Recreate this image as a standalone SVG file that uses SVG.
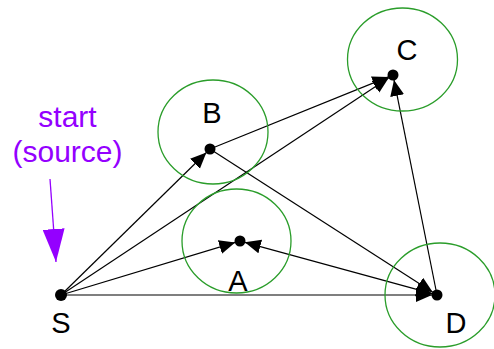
<svg xmlns="http://www.w3.org/2000/svg" width="494" height="349" viewBox="0 0 494 349">
<style>
.ring{fill:none;stroke:#2a9d2a;stroke-width:1.3}
.dot{fill:#000}
.lbl{font-family:"Liberation Sans",Arial,sans-serif;font-size:29px;fill:#000;text-anchor:middle}
.note{font-family:"Liberation Sans",Arial,sans-serif;font-size:30px;fill:#9400ff;text-anchor:middle}
.edge{stroke:#000;stroke-width:1.2;fill:none;marker-end:url(#ah)}
</style>
<defs>
<marker id="ah" markerUnits="userSpaceOnUse" markerWidth="17" markerHeight="15" refX="16" refY="7" orient="auto">
<path d="M0,0 L16,7 L0,14 Z" fill="#000"/>
</marker>
<marker id="ahs" markerUnits="userSpaceOnUse" markerWidth="17" markerHeight="15" refX="16" refY="7" orient="auto-start-reverse">
<path d="M0,0 L16,7 L0,14 Z" fill="#000"/>
</marker>
<marker id="pa" markerUnits="userSpaceOnUse" markerWidth="34" markerHeight="22" refX="33" refY="11" orient="auto">
<path d="M0,0 L33,11 L0,22 Z" fill="#9400ff"/>
</marker>
</defs>
<g id="connectors">
<line class="edge" x1="61" y1="295" x2="206.4" y2="152.5"/>
<line class="edge" x1="61" y1="295" x2="388.8" y2="77.8"/>
<line class="edge" x1="61" y1="295" x2="235.2" y2="242.4"/>
<line class="edge" x1="61" y1="295" x2="432" y2="295"/>
<line class="edge" x1="210" y1="149" x2="388.4" y2="76.9"/>
<line class="edge" x1="210" y1="149" x2="432.8" y2="292.3"/>
<line x1="244.8" y1="242.3" x2="432.2" y2="293.7" stroke="#000" stroke-width="1.2" marker-start="url(#ahs)" marker-end="url(#ah)"/>
<line class="edge" x1="437" y1="295" x2="394" y2="79.9"/>
</g>
<g id="node-B">
<ellipse class="ring" cx="213" cy="132" rx="55" ry="52"/>
<circle class="dot" cx="210" cy="149" r="5.5"/>
<text class="lbl" x="212" y="123">B</text>
</g>
<g id="node-A">
<ellipse class="ring" cx="236.5" cy="241" rx="54.5" ry="52"/>
<circle class="dot" cx="240" cy="241" r="5.5"/>
<text class="lbl" x="238" y="291">A</text>
</g>
<g id="node-C">
<ellipse class="ring" cx="402.5" cy="59.5" rx="55" ry="51.5"/>
<circle class="dot" cx="393" cy="75" r="5.5"/>
<text class="lbl" x="407" y="60">C</text>
</g>
<g id="node-D">
<ellipse class="ring" cx="440" cy="295" rx="55" ry="52"/>
<circle class="dot" cx="437" cy="295" r="5.5"/>
<text class="lbl" x="456" y="333">D</text>
</g>
<g id="node-S">
<circle class="dot" cx="61" cy="295" r="6"/>
<text class="lbl" x="61" y="333">S</text>
</g>
<g id="note-start">
<text class="note" x="67.5" y="127">start</text>
<text class="note" x="67.5" y="162">(source)</text>
<line x1="50" y1="179" x2="56" y2="262" stroke="#9400ff" stroke-width="1.3" marker-end="url(#pa)"/>
</g>
</svg>
